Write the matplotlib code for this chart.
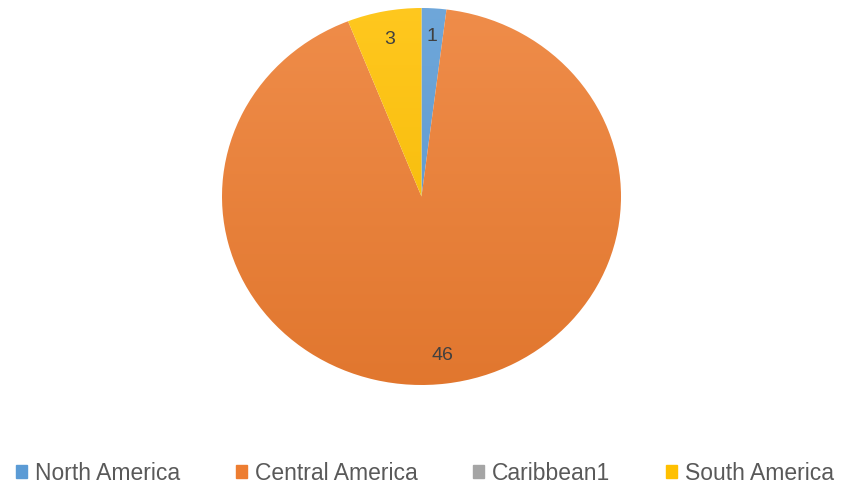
import numpy as np
import matplotlib.pyplot as plt
import matplotlib.colors as mcolors

regions = ['North America', 'Central America', 'Caribbean1', 'South America']
counts = [1, 46, 0, 3]
colors = ['#5B9BD5', '#ED7D31', '#A5A5A5', '#FFC000']

plt.rcParams['font.family'] = ['Liberation Sans', 'DejaVu Sans']

fig = plt.figure(figsize=(8.5, 4.87), dpi=100)
ax = fig.add_axes([222 / 850, (487 - 385) / 487, 399 / 850, 377 / 487])


def label(pct):
    v = int(round(pct * sum(counts) / 100))
    return str(v) if v > 0 else ''


wedges, texts, autotexts = ax.pie(counts, colors=colors, startangle=90, counterclock=False,
                                  autopct=label, pctdistance=0.85,
                                  textprops={'color': '#404040', 'fontsize': 14})
ax.set_aspect('auto')
ax.set_xlim(-1, 1)
ax.set_ylim(-1, 1)
ax.axis('off')

# soft vertical gradient on each slice, lighter at the top
for w, c in zip(wedges, colors):
    rgb = np.array(mcolors.to_rgb(c))
    top = rgb + (1 - rgb) * 0.12
    bot = rgb * 0.95
    t = np.linspace(0, 1, 256)[:, None]
    grad = top * (1 - t[..., None]) + bot * t[..., None]
    grad = np.repeat(grad, 2, axis=1)
    im = ax.imshow(grad, extent=[-1, 1, -1, 1], aspect='auto', zorder=w.get_zorder())
    im.set_clip_path(w)
    w.set_facecolor('none')
for t in autotexts:
    t.set_zorder(5)

handles = [plt.Rectangle((0, 0), 1, 1, color=c) for c in colors]
fig.legend(handles, regions, loc='center', bbox_to_anchor=(0.5, 1 - 473 / 487), ncol=4,
           frameon=False, fontsize=16.5, handlelength=0.5, handleheight=0.5,
           handletextpad=0.35, columnspacing=2.4, labelcolor='#595959',
           borderpad=0, borderaxespad=0)

fig.savefig('out.png', dpi=100)
